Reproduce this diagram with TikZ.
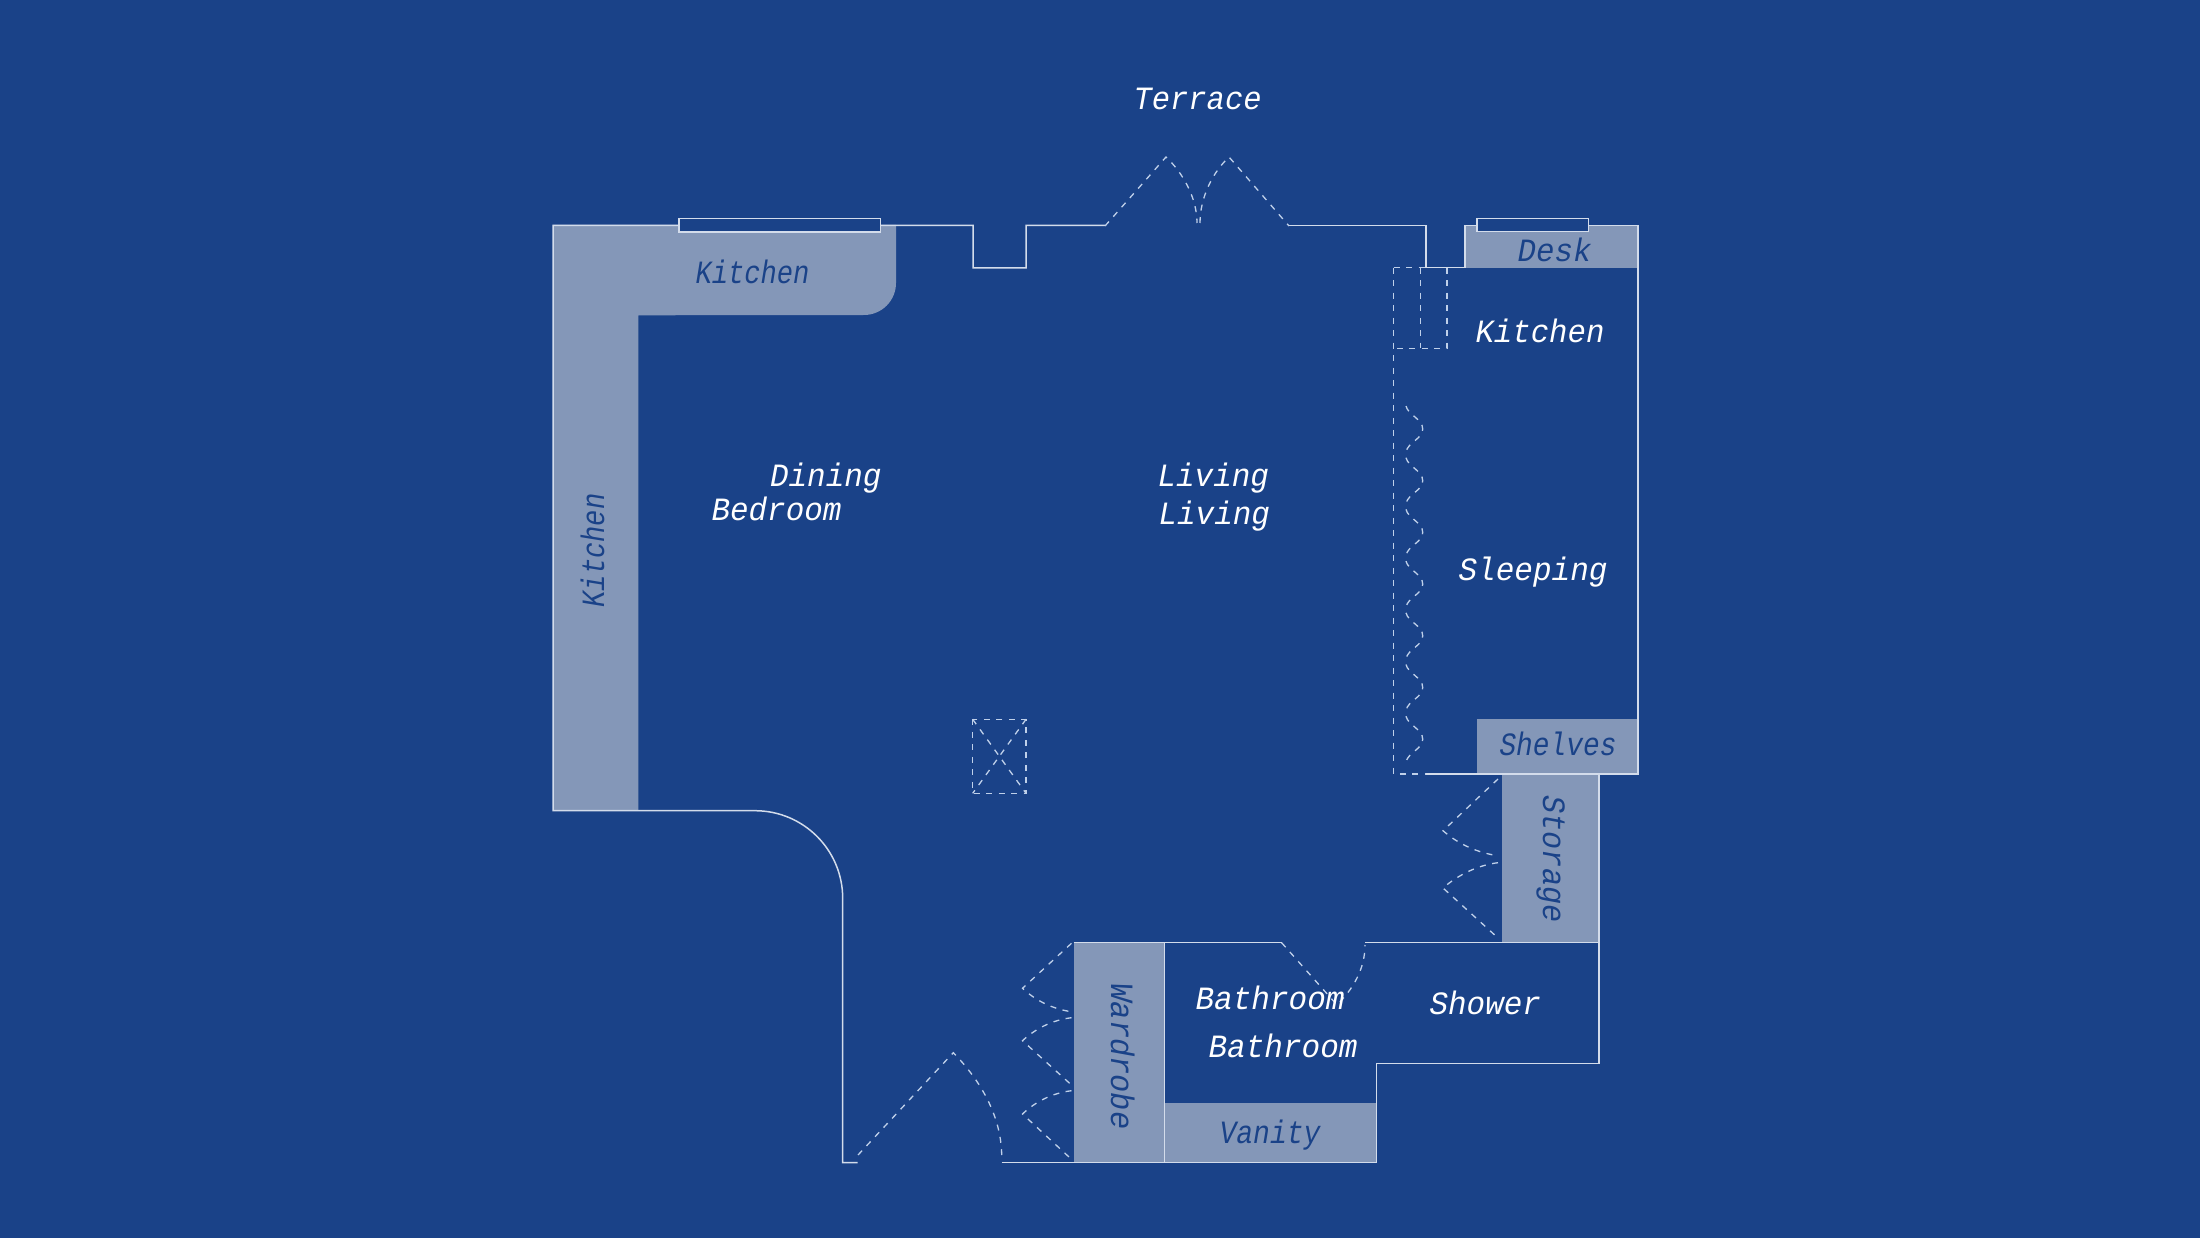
\documentclass[tikz,border=0pt]{standalone}
\usepackage{fontspec}
\usepackage{graphicx}
\newfontfamily\planfont{Liberation Mono}
\definecolor{bgblue}{HTML}{1A4288}
\definecolor{fillgrey}{HTML}{8497B8}
\definecolor{wallline}{HTML}{D3DCEB}
\definecolor{dashline}{HTML}{BFD0EA}
\newcommand{\fitlabel}[2]{\resizebox{#1pt}{\height}{\planfont\itshape\fontsize{32.5}{36}\selectfont #2}}
\tikzset{
  wall/.style={draw=wallline,line width=1.5pt,line join=miter},
  dashedline/.style={draw=dashline,line width=1.3pt,dash pattern=on 6pt off 6.5pt},
  counter/.style={fill=fillgrey,draw=none},
  lightlabel/.style={text=white,inner sep=0pt,outer sep=0pt,anchor=base west},
  darklabel/.style={text=bgblue,inner sep=0pt,outer sep=0pt,anchor=base west},
}
\begin{document}
\begin{tikzpicture}[x=1pt,y=-1pt]
\fill[bgblue] (0,0) rectangle (2200,1238);
\useasboundingbox (0,0) rectangle (2200,1238);
% filled fittings
\path[counter] (553,225) -- (896,225) -- (896,283) arc[start angle=0,end angle=90,radius=32] -- (638.3,315.3) -- (638.3,810.7) -- (553,810.7) -- cycle;
\path[counter] (1465,225.5) rectangle (1638,267.7);
\path[counter] (1477,719.3) rectangle (1638,774);
\path[counter] (1501.7,774) rectangle (1599,942.7);
\path[counter] (1073.5,942.7) rectangle (1164.5,1162.7);
\path[counter] (1164.5,1103) rectangle (1376.7,1162.7);
% walls
\draw[wall] (1105,225.5) -- (1026,225.5) -- (1026,268) -- (973,268) -- (973,225.5) -- (553,225.5) -- (553,810.7) -- (755,810.7) arc[start angle=-90,end angle=0,radius=87.7] -- (842.7,1162.7) -- (857.5,1162.7);
\draw[wall] (1001.7,1162.7) -- (1376.7,1162.7) -- (1376.7,1063.3) -- (1599,1063.3) -- (1599,774);
\draw[wall] (1289,225.5) -- (1426,225.5) -- (1426,267.7) -- (1465,267.7) -- (1465,225.5) -- (1638,225.5) -- (1638,774) -- (1425,774);
\draw[wall] (1073.5,942.7) -- (1281.6,942.7);
\draw[wall] (1365,942.7) -- (1599,942.7);
\draw[wall] (1164.5,942.7) -- (1164.5,1162.7);
% windows
\draw[wall,fill=bgblue] (679,218.3) rectangle (880.5,232);
\draw[wall,fill=bgblue] (1477,218.3) rectangle (1588.6,231.7);
% dashed: terrace doors
\draw[dashedline] (1105,226) -- (1166,157) .. controls (1182,172) and (1197,197) .. (1197,223);
\draw[dashedline] (1200,223) .. controls (1200,197) and (1213,172) .. (1229,157) -- (1289,226);
% dashed: kitchen cupboards and partition
\draw[dashedline] (1393.6,267.7) -- (1393.6,774) -- (1425,774);
\draw[dashedline] (1393.6,267.7) -- (1426,267.7);
\draw[dashedline] (1420.7,267.7) -- (1420.7,348.3);
\draw[dashedline] (1447,267.7) -- (1447,348.3) -- (1393.6,348.3);
% dashed: folding curtain
\foreach \yy in {406,457.7,509.4,561.1,612.8,664.5,716.2} {
  \draw[dashedline] (1406,\yy) .. controls (1408,\yy+9) and (1422.7,\yy+13) .. (1422.7,\yy+23) .. controls (1422.7,\yy+33) and (1408,\yy+36) .. (1406,\yy+46);
}
% dashed: column
\draw[dashedline] (972.7,719.3) rectangle (1026,793.3);
\draw[dashedline] (972.7,719.3) -- (1026,793.3);
\draw[dashedline] (1026,719.3) -- (972.7,793.3);
% dashed: storage doors
\draw[dashedline] (1498,779) -- (1443,830.7) .. controls (1458,844) and (1478,853) .. (1498,855.7);
\draw[dashedline] (1498,862.7) .. controls (1478,865) and (1458,875) .. (1443,888) -- (1498,938);
% dashed: wardrobe doors
\draw[dashedline] (1071.5,943.3) -- (1022.5,988.3) .. controls (1035,1000) and (1052,1009) .. (1071.5,1011.7);
\draw[dashedline] (1071.5,1017.7) .. controls (1052,1020) and (1035,1029) .. (1022.5,1040.7) -- (1071.5,1085);
\draw[dashedline] (1071.5,1090.7) .. controls (1052,1093) and (1035,1102) .. (1022.5,1114) -- (1071.5,1159.3);
% dashed: entrance and bathroom doors
\draw[dashedline] (858,1155) -- (953.3,1052.7) .. controls (980,1080) and (1001,1115) .. (1001.7,1155);
\draw[dashedline] (1281.6,942.7) -- (1337,1005) .. controls (1352,990) and (1365,970) .. (1365,945);
% labels
\node[lightlabel] (terrace) at (1133.6,110) {\fitlabel{128}{Terrace}};
\node[darklabel] (kitchentop) at (695.5,283.5) {\fitlabel{114}{Kitchen}};
\node[darklabel,rotate=90] (kitchenside) at (604,607.5) {\fitlabel{114}{Kitchen}};
\node[lightlabel] (dining) at (770,486.5) {\fitlabel{111.5}{Dining}};
\node[lightlabel] (bedroom) at (711.5,520) {\fitlabel{130}{Bedroom}};
\node[lightlabel] (living1) at (1157.5,486) {\fitlabel{111.5}{Living}};
\node[lightlabel] (living2) at (1158.5,524) {\fitlabel{111.5}{Living}};
\node[darklabel] (desk) at (1517.5,261.2) {\fitlabel{74}{Desk}};
\node[lightlabel] (kitchenright) at (1475.5,342.2) {\fitlabel{129}{Kitchen}};
\node[lightlabel] (sleeping) at (1458.5,580.5) {\fitlabel{149}{Sleeping}};
\node[darklabel] (shelves) at (1499.5,755.5) {\fitlabel{117}{Shelves}};
\node[darklabel,rotate=-90] (storage) at (1543,795.5) {\fitlabel{127}{Storage}};
\node[darklabel,rotate=-90] (wardrobe) at (1111,983.5) {\fitlabel{146}{Wardrobe}};
\node[lightlabel] (bath1) at (1195.5,1009.3) {\fitlabel{149}{Bathroom}};
\node[lightlabel] (bath2) at (1208.5,1057) {\fitlabel{149}{Bathroom}};
\node[lightlabel] (shower) at (1429.5,1014.5) {\fitlabel{111.5}{Shower}};
\node[darklabel] (vanity) at (1219.5,1143.8) {\fitlabel{101}{Vanity}};
\end{tikzpicture}
\end{document}
